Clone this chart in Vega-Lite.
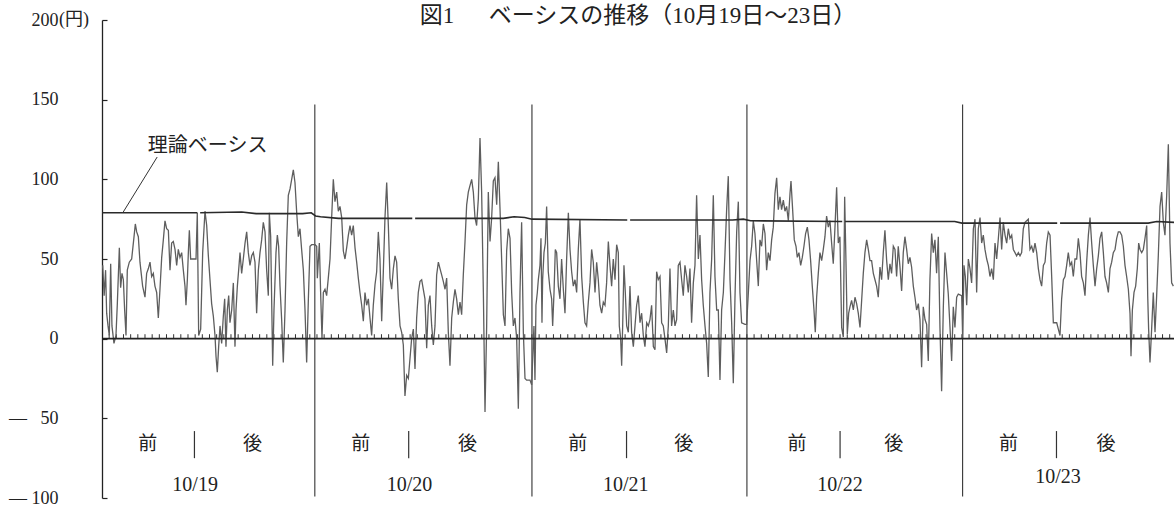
{
"$schema": "https://vega.github.io/schema/vega-lite/v6.json",
"width": 1072, "height": 478,
"autosize": {"type": "none"},
"padding": {"left": 102, "top": 20, "right": 0, "bottom": 14},
"background": "white",
"config": {"view": {"stroke": null}},
"title": {"text": "図1\u3000\u2002ベーシスの推移（10月19日～23日）", "anchor": "middle", "frame": "group", "offset": -17, "fontSize": 23, "font": "Liberation Serif, Noto Sans CJK JP", "fontWeight": "normal", "color": "#222"},
"datasets": {
"basis": [
{"t":0,"v":44},{"t":1,"v":46},{"t":3,"v":27},{"t":5,"v":43},{"t":6.5,"v":16},{"t":8.4,"v":8},{"t":10.2,"v":2},{"t":12.1,"v":47},{"t":13.9,"v":8},{"t":16.7,"v":-3},{"t":19.5,"v":2},{"t":21.4,"v":22},{"t":24.2,"v":57},{"t":26,"v":32},{"t":27.9,"v":41},{"t":29.8,"v":37},{"t":31.6,"v":18},{"t":33.5,"v":2},{"t":35.3,"v":43},{"t":38.1,"v":48},{"t":41.4,"v":50},{"t":44.7,"v":64},{"t":46.5,"v":72},{"t":48.4,"v":67},{"t":50.7,"v":64},{"t":53,"v":48},{"t":56.7,"v":33},{"t":60,"v":26},{"t":62.3,"v":41},{"t":64.7,"v":44},{"t":67,"v":48},{"t":69.3,"v":39},{"t":71.6,"v":41},{"t":73.9,"v":33},{"t":76.3,"v":29},{"t":78.6,"v":13},{"t":80.9,"v":31},{"t":83.3,"v":51},{"t":85.6,"v":62},{"t":87.9,"v":74},{"t":90.2,"v":69},{"t":92.6,"v":68},{"t":94.9,"v":43},{"t":97.2,"v":60},{"t":99.5,"v":61},{"t":101.9,"v":56},{"t":104.2,"v":46},{"t":106.5,"v":56},{"t":108.8,"v":51},{"t":111.2,"v":54},{"t":113.5,"v":43},{"t":115.8,"v":33},{"t":117.2,"v":21},{"t":119.1,"v":37},{"t":120.5,"v":54},{"t":121.9,"v":68},{"t":123.7,"v":50},{"t":131.2,"v":50},{"t":133,"v":79},{"t":134.9,"v":2},{"t":137.7,"v":6},{"t":140.5,"v":54},{"t":143.7,"v":80},{"t":146.1,"v":71},{"t":148.4,"v":52},{"t":150.7,"v":37},{"t":153,"v":22},{"t":155.4,"v":14},{"t":157.7,"v":2},{"t":159.1,"v":-11},{"t":160.9,"v":-21},{"t":162.8,"v":-5},{"t":164.7,"v":8},{"t":167,"v":-3},{"t":169.3,"v":14},{"t":171.2,"v":25},{"t":173,"v":-5},{"t":174.9,"v":18},{"t":176.8,"v":27},{"t":178.6,"v":10},{"t":181,"v":18},{"t":183.3,"v":35},{"t":185.6,"v":-5},{"t":187,"v":18},{"t":188.9,"v":33},{"t":190.7,"v":43},{"t":192.6,"v":54},{"t":194.9,"v":41},{"t":197.2,"v":50},{"t":199.6,"v":60},{"t":201.9,"v":67},{"t":204.2,"v":54},{"t":206.5,"v":46},{"t":208.9,"v":52},{"t":211.2,"v":54},{"t":213.5,"v":48},{"t":215.8,"v":16},{"t":218.2,"v":43},{"t":220.5,"v":54},{"t":222.8,"v":62},{"t":225.1,"v":73},{"t":227.5,"v":67},{"t":229.8,"v":43},{"t":232.1,"v":27},{"t":233.5,"v":79},{"t":235.4,"v":64},{"t":238.2,"v":-17},{"t":240,"v":18},{"t":242.8,"v":54},{"t":244.7,"v":65},{"t":246.5,"v":58},{"t":248.4,"v":33},{"t":250.7,"v":12},{"t":253,"v":-15},{"t":255.4,"v":18},{"t":257.7,"v":60},{"t":260,"v":90},{"t":262.4,"v":94},{"t":264.7,"v":100},{"t":267,"v":106},{"t":269.3,"v":98},{"t":271.7,"v":79},{"t":274,"v":64},{"t":276.3,"v":69},{"t":278.6,"v":56},{"t":281,"v":43},{"t":283.3,"v":18},{"t":285.6,"v":-15},{"t":288,"v":25},{"t":290.3,"v":58},{"t":292.6,"v":59},{"t":297.3,"v":59},{"t":299.6,"v":58},
{"t":300.5,"v":38},{"t":303.3,"v":60},{"t":305.1,"v":29},{"t":307,"v":0},{"t":308.9,"v":29},{"t":311.2,"v":31},{"t":313.5,"v":27},{"t":315.8,"v":38},{"t":318.2,"v":50},{"t":320.5,"v":76},{"t":322.8,"v":100},{"t":325.1,"v":86},{"t":327.5,"v":92},{"t":329.8,"v":80},{"t":332.1,"v":83},{"t":334.5,"v":76},{"t":336.8,"v":55},{"t":339.1,"v":50},{"t":341.4,"v":57},{"t":343.8,"v":65},{"t":346.1,"v":71},{"t":348.4,"v":65},{"t":350.7,"v":71},{"t":353.1,"v":57},{"t":355.4,"v":48},{"t":357.7,"v":38},{"t":360,"v":29},{"t":362.4,"v":21},{"t":364.7,"v":11},{"t":367,"v":29},{"t":369.3,"v":21},{"t":371.7,"v":25},{"t":374,"v":13},{"t":376.3,"v":2},{"t":378.6,"v":21},{"t":381,"v":34},{"t":383.3,"v":42},{"t":385.6,"v":67},{"t":387.9,"v":50},{"t":390.3,"v":11},{"t":392.6,"v":42},{"t":394.9,"v":76},{"t":397.3,"v":98},{"t":399.6,"v":71},{"t":401.9,"v":38},{"t":404.2,"v":31},{"t":406.6,"v":44},{"t":408.9,"v":52},{"t":411.2,"v":48},{"t":413.5,"v":25},{"t":415.9,"v":8},{"t":418.2,"v":4},{"t":420.5,"v":-4},{"t":422.8,"v":-36},{"t":425.2,"v":-23},{"t":427.5,"v":-25},{"t":432.1,"v":0},{"t":434.5,"v":6},{"t":436.8,"v":-19},{"t":439.1,"v":13},{"t":441.4,"v":29},{"t":443.8,"v":36},{"t":446.1,"v":37},{"t":448.4,"v":31},{"t":450.7,"v":25},{"t":453.1,"v":-6},{"t":455.4,"v":21},{"t":457.7,"v":27},{"t":460.1,"v":8},{"t":462.4,"v":-4},{"t":464.7,"v":8},{"t":467,"v":40},{"t":469.4,"v":48},{"t":471.7,"v":44},{"t":474,"v":40},{"t":476.3,"v":36},{"t":478.7,"v":31},{"t":481,"v":38},{"t":483.3,"v":4},{"t":485.6,"v":-17},{"t":488,"v":13},{"t":490.3,"v":23},{"t":492.6,"v":31},{"t":494.9,"v":25},{"t":497.3,"v":15},{"t":499.6,"v":23},{"t":501.9,"v":15},{"t":504.2,"v":40},{"t":506.6,"v":61},{"t":508.9,"v":84},{"t":511.2,"v":92},{"t":513.5,"v":96},{"t":515.9,"v":100},{"t":518.2,"v":92},{"t":520.5,"v":76},{"t":522.8,"v":71},{"t":525.2,"v":88},{"t":527.5,"v":126},{"t":529.8,"v":92},{"t":532.2,"v":29},{"t":534.5,"v":-46},{"t":536.8,"v":8},{"t":539.1,"v":92},{"t":541.5,"v":61},{"t":543.8,"v":76},{"t":546.1,"v":99},{"t":548.4,"v":101},{"t":550.8,"v":84},{"t":553.1,"v":111},{"t":555.4,"v":82},{"t":557.7,"v":50},{"t":560.1,"v":15},{"t":562.4,"v":8},{"t":564.7,"v":55},{"t":567,"v":69},{"t":569.4,"v":63},{"t":571.7,"v":29},{"t":574,"v":8},{"t":576.3,"v":13},{"t":578.7,"v":0},{"t":581,"v":-44},{"t":583.3,"v":29},{"t":585.6,"v":73},{"t":588,"v":4},{"t":590.3,"v":-25},{"t":592.6,"v":-26},{"t":597.3,"v":-26},{"t":599.6,"v":-29},
{"t":602.8,"v":8},{"t":604.2,"v":-26},{"t":605.6,"v":21},{"t":607.5,"v":29},{"t":608.9,"v":37},{"t":611.2,"v":46},{"t":612.6,"v":63},{"t":614,"v":10},{"t":614.9,"v":37},{"t":616.8,"v":54},{"t":618.7,"v":60},{"t":620.5,"v":83},{"t":622.8,"v":42},{"t":625.2,"v":31},{"t":627.5,"v":25},{"t":628.9,"v":8},{"t":630.8,"v":29},{"t":632.6,"v":56},{"t":634.5,"v":54},{"t":636.8,"v":33},{"t":639.1,"v":25},{"t":641.4,"v":50},{"t":643.8,"v":31},{"t":646.1,"v":16},{"t":648.4,"v":50},{"t":650.8,"v":79},{"t":653.1,"v":56},{"t":655.4,"v":42},{"t":657.7,"v":33},{"t":660.1,"v":37},{"t":662.4,"v":29},{"t":664.7,"v":56},{"t":667,"v":75},{"t":669.4,"v":39},{"t":671.7,"v":23},{"t":674,"v":10},{"t":676.3,"v":8},{"t":678.7,"v":23},{"t":681,"v":35},{"t":683.3,"v":56},{"t":685.6,"v":48},{"t":688,"v":29},{"t":690.3,"v":48},{"t":692.6,"v":37},{"t":694.9,"v":21},{"t":697.3,"v":16},{"t":699.6,"v":23},{"t":701.9,"v":21},{"t":704.2,"v":35},{"t":706.6,"v":61},{"t":708.9,"v":46},{"t":711.2,"v":33},{"t":713.5,"v":50},{"t":715.9,"v":37},{"t":718.2,"v":59},{"t":720.5,"v":54},{"t":721.9,"v":8},{"t":723.8,"v":0},{"t":725.2,"v":-17},{"t":726.6,"v":8},{"t":728.4,"v":46},{"t":730.3,"v":29},{"t":732.2,"v":8},{"t":734.5,"v":4},{"t":736.8,"v":33},{"t":739.1,"v":4},{"t":741.5,"v":-5},{"t":743.8,"v":8},{"t":746.1,"v":21},{"t":748.4,"v":27},{"t":750.8,"v":10},{"t":753.1,"v":16},{"t":755.4,"v":2},{"t":757.7,"v":-5},{"t":760.1,"v":10},{"t":762.4,"v":8},{"t":764.7,"v":12},{"t":767,"v":21},{"t":769.4,"v":-5},{"t":771.7,"v":-7},{"t":774,"v":42},{"t":776.3,"v":37},{"t":778.7,"v":39},{"t":781,"v":10},{"t":783.3,"v":8},{"t":785.6,"v":0},{"t":788,"v":-9},{"t":790.3,"v":8},{"t":792.6,"v":44},{"t":794.9,"v":8},{"t":797.3,"v":18},{"t":799.6,"v":8},{"t":801.9,"v":12},{"t":804.2,"v":46},{"t":806.6,"v":48},{"t":808.9,"v":37},{"t":811.2,"v":27},{"t":813.5,"v":46},{"t":815.9,"v":39},{"t":818.2,"v":29},{"t":820.5,"v":44},{"t":822.8,"v":10},{"t":825.2,"v":35},{"t":827.5,"v":46},{"t":829.8,"v":90},{"t":832.2,"v":50},{"t":834.5,"v":65},{"t":836.8,"v":37},{"t":839.1,"v":21},{"t":841.5,"v":8},{"t":843.8,"v":-3},{"t":846.1,"v":-24},{"t":848.4,"v":29},{"t":850.8,"v":50},{"t":853.1,"v":90},{"t":855.4,"v":39},{"t":857.8,"v":18},{"t":860.1,"v":18},{"t":862.4,"v":-26},{"t":864.7,"v":18},{"t":867.1,"v":29},{"t":869.4,"v":54},{"t":871.7,"v":81},{"t":874,"v":102},{"t":876.4,"v":37},{"t":878.7,"v":10},{"t":881,"v":-28},{"t":883.3,"v":25},{"t":885.7,"v":67},{"t":888,"v":86},{"t":890.3,"v":29},{"t":892.6,"v":10},{"t":897.3,"v":9},
{"t":899.6,"v":9},{"t":901.9,"v":28},{"t":904.3,"v":49},{"t":906.6,"v":58},{"t":908.9,"v":74},{"t":911.2,"v":66},{"t":913.6,"v":49},{"t":915.9,"v":33},{"t":918.2,"v":62},{"t":920.5,"v":58},{"t":922.9,"v":72},{"t":925.2,"v":66},{"t":927.5,"v":43},{"t":929.8,"v":54},{"t":932.2,"v":49},{"t":934.5,"v":62},{"t":936.8,"v":70},{"t":939.1,"v":91},{"t":941.5,"v":101},{"t":943.8,"v":81},{"t":946.1,"v":89},{"t":948.4,"v":81},{"t":950.8,"v":87},{"t":953.1,"v":80},{"t":955.4,"v":83},{"t":957.8,"v":74},{"t":960.1,"v":91},{"t":961.5,"v":99},{"t":963.8,"v":81},{"t":966.1,"v":62},{"t":968.5,"v":58},{"t":970.3,"v":51},{"t":972.6,"v":54},{"t":975,"v":46},{"t":977.3,"v":51},{"t":979.6,"v":58},{"t":981.9,"v":66},{"t":984.3,"v":70},{"t":986.6,"v":62},{"t":988.9,"v":49},{"t":991.2,"v":33},{"t":993.6,"v":18},{"t":995.4,"v":4},{"t":997.3,"v":26},{"t":999.6,"v":41},{"t":1001.9,"v":54},{"t":1004.3,"v":49},{"t":1006.6,"v":56},{"t":1008.9,"v":64},{"t":1011.2,"v":77},{"t":1013.6,"v":70},{"t":1015.9,"v":74},{"t":1018.2,"v":60},{"t":1020.5,"v":47},{"t":1022.9,"v":70},{"t":1025.2,"v":95},{"t":1027.5,"v":60},{"t":1029.8,"v":64},{"t":1032.2,"v":7},{"t":1034.5,"v":1},{"t":1036.4,"v":89},{"t":1038.2,"v":49},{"t":1040.1,"v":3},{"t":1042,"v":16},{"t":1043.8,"v":20},{"t":1046.1,"v":24},{"t":1048.5,"v":18},{"t":1050.8,"v":26},{"t":1053.1,"v":22},{"t":1055.4,"v":16},{"t":1057.8,"v":7},{"t":1060.1,"v":24},{"t":1062.4,"v":41},{"t":1064.7,"v":54},{"t":1067.1,"v":62},{"t":1069.4,"v":56},{"t":1071.7,"v":49},{"t":1074,"v":49},{"t":1076.4,"v":41},{"t":1078.7,"v":37},{"t":1081,"v":33},{"t":1083.3,"v":26},{"t":1085.7,"v":45},{"t":1088,"v":37},{"t":1090.3,"v":54},{"t":1092.6,"v":68},{"t":1095,"v":49},{"t":1097.3,"v":37},{"t":1099.6,"v":47},{"t":1101.9,"v":41},{"t":1104.3,"v":58},{"t":1106.6,"v":56},{"t":1108.9,"v":39},{"t":1111.2,"v":58},{"t":1113.6,"v":45},{"t":1115.9,"v":30},{"t":1118.2,"v":54},{"t":1120.5,"v":64},{"t":1122.9,"v":56},{"t":1125.2,"v":47},{"t":1127.5,"v":51},{"t":1129.8,"v":45},{"t":1132.2,"v":33},{"t":1134.5,"v":26},{"t":1136.8,"v":18},{"t":1139.2,"v":22},{"t":1141.5,"v":12},{"t":1143.8,"v":-18},{"t":1146.1,"v":20},{"t":1148.5,"v":12},{"t":1150.8,"v":9},{"t":1153.1,"v":-14},{"t":1155.4,"v":37},{"t":1157.8,"v":66},{"t":1160.1,"v":54},{"t":1162.4,"v":62},{"t":1164.7,"v":41},{"t":1167.1,"v":64},{"t":1169.4,"v":7},{"t":1171.7,"v":-33},{"t":1174.1,"v":20},{"t":1176.4,"v":54},{"t":1178.7,"v":41},{"t":1181,"v":28},{"t":1183.4,"v":7},{"t":1185.7,"v":-14},{"t":1188,"v":20},{"t":1190.3,"v":7},{"t":1192.7,"v":26},{"t":1195,"v":28},{"t":1199.7,"v":27},
{"t":1201.1,"v":0},{"t":1202.9,"v":46},{"t":1204.8,"v":39},{"t":1206.7,"v":21},{"t":1209,"v":50},{"t":1211.3,"v":44},{"t":1213.6,"v":35},{"t":1216,"v":69},{"t":1218.3,"v":75},{"t":1220.6,"v":29},{"t":1222.9,"v":69},{"t":1225.3,"v":76},{"t":1227.6,"v":60},{"t":1229.9,"v":65},{"t":1232.2,"v":56},{"t":1234.6,"v":50},{"t":1236.9,"v":46},{"t":1239.2,"v":39},{"t":1241.5,"v":44},{"t":1243.9,"v":37},{"t":1246.2,"v":60},{"t":1248.5,"v":50},{"t":1250.9,"v":63},{"t":1253.2,"v":76},{"t":1255.5,"v":56},{"t":1257.8,"v":73},{"t":1260.2,"v":65},{"t":1262.5,"v":60},{"t":1264.8,"v":69},{"t":1267.1,"v":63},{"t":1269.5,"v":65},{"t":1271.8,"v":56},{"t":1274.1,"v":54},{"t":1276.4,"v":52},{"t":1278.8,"v":54},{"t":1281.1,"v":52},{"t":1283.4,"v":54},{"t":1285.7,"v":69},{"t":1288.1,"v":73},{"t":1290.4,"v":74},{"t":1292.7,"v":75},{"t":1295,"v":56},{"t":1297.4,"v":58},{"t":1299.7,"v":54},{"t":1302,"v":60},{"t":1304.4,"v":54},{"t":1306.7,"v":44},{"t":1309,"v":37},{"t":1311.3,"v":33},{"t":1313.7,"v":46},{"t":1316,"v":48},{"t":1318.3,"v":60},{"t":1320.6,"v":67},{"t":1323,"v":65},{"t":1325.3,"v":39},{"t":1327.6,"v":10},{"t":1332.3,"v":10},{"t":1334.6,"v":6},{"t":1336.9,"v":2},{"t":1339.2,"v":25},{"t":1341.6,"v":37},{"t":1343.9,"v":39},{"t":1346.2,"v":46},{"t":1348.5,"v":54},{"t":1350.9,"v":46},{"t":1353.2,"v":48},{"t":1355.5,"v":39},{"t":1357.8,"v":50},{"t":1360.2,"v":50},{"t":1362.5,"v":63},{"t":1364.8,"v":54},{"t":1367.1,"v":39},{"t":1369.5,"v":35},{"t":1371.8,"v":27},{"t":1374.1,"v":48},{"t":1376.5,"v":65},{"t":1378.8,"v":76},{"t":1381.1,"v":60},{"t":1383.4,"v":46},{"t":1385.8,"v":33},{"t":1388.1,"v":44},{"t":1390.4,"v":52},{"t":1392.7,"v":63},{"t":1395.1,"v":67},{"t":1397.4,"v":54},{"t":1399.7,"v":39},{"t":1402,"v":35},{"t":1404.4,"v":29},{"t":1406.7,"v":44},{"t":1409,"v":48},{"t":1411.3,"v":54},{"t":1413.7,"v":56},{"t":1416,"v":63},{"t":1418.3,"v":67},{"t":1420.6,"v":67},{"t":1423,"v":65},{"t":1425.3,"v":58},{"t":1427.6,"v":46},{"t":1429.9,"v":39},{"t":1432.3,"v":31},{"t":1434.6,"v":16},{"t":1436,"v":-11},{"t":1437.9,"v":18},{"t":1440.2,"v":29},{"t":1442.5,"v":33},{"t":1444.8,"v":44},{"t":1446.7,"v":60},{"t":1448.6,"v":56},{"t":1450.9,"v":54},{"t":1453.2,"v":56},{"t":1455.5,"v":63},{"t":1457.9,"v":71},{"t":1459.3,"v":27},{"t":1460.6,"v":6},{"t":1462.5,"v":-15},{"t":1464.8,"v":6},{"t":1467.1,"v":29},{"t":1469.5,"v":4},{"t":1471.8,"v":27},{"t":1474.1,"v":52},{"t":1476.5,"v":83},{"t":1478.8,"v":92},{"t":1481.1,"v":73},{"t":1483.4,"v":65},{"t":1485.8,"v":90},{"t":1488.1,"v":122},{"t":1490.4,"v":60},{"t":1492.7,"v":35},{"t":1495.1,"v":33}
],
"theory": [
{"t":0,"v":79,"seg":"a"},{"t":133,"v":79,"seg":"a"},
{"t":137,"v":79,"seg":"b"},{"t":195,"v":79.5,"seg":"b"},{"t":215,"v":78.5,"seg":"b"},{"t":280,"v":78.5,"seg":"b"},{"t":292,"v":79,"seg":"b"},{"t":298,"v":77,"seg":"b"},{"t":305,"v":76.5,"seg":"b"},{"t":330,"v":75.5,"seg":"b"},{"t":433,"v":75.5,"seg":"b"},
{"t":437,"v":75.5,"seg":"c"},{"t":560,"v":75.5,"seg":"c"},{"t":575,"v":76.5,"seg":"c"},{"t":590,"v":76,"seg":"c"},{"t":600,"v":75,"seg":"c"},{"t":733,"v":74.5,"seg":"c"},
{"t":737,"v":74.5,"seg":"d"},{"t":880,"v":74.5,"seg":"d"},{"t":895,"v":75,"seg":"d"},{"t":905,"v":74,"seg":"d"},{"t":1033,"v":73.5,"seg":"d"},
{"t":1037,"v":73.5,"seg":"e"},{"t":1190,"v":73.5,"seg":"e"},{"t":1200,"v":72.5,"seg":"e"},{"t":1333,"v":72.5,"seg":"e"},
{"t":1337,"v":72.5,"seg":"f"},{"t":1460,"v":72.5,"seg":"f"},{"t":1472,"v":73.5,"seg":"f"},{"t":1496,"v":73,"seg":"f"}
],
"separators": [{"t":297},{"t":600},{"t":900},{"t":1201}],
"zeroline": [{"v":0}],
"zeroticks": [{"t":10},{"t":20},{"t":30},{"t":40},{"t":50},{"t":60},{"t":70},{"t":80},{"t":90},{"t":100},{"t":110},{"t":120},{"t":130},{"t":140},{"t":150},{"t":160},{"t":170},{"t":180},{"t":190},{"t":200},{"t":210},{"t":220},{"t":230},{"t":240},{"t":250},{"t":260},{"t":270},{"t":280},{"t":290},{"t":300},{"t":310},{"t":320},{"t":330},{"t":340},{"t":350},{"t":360},{"t":370},{"t":380},{"t":390},{"t":400},{"t":410},{"t":420},{"t":430},{"t":440},{"t":450},{"t":460},{"t":470},{"t":480},{"t":490},{"t":500},{"t":510},{"t":520},{"t":530},{"t":540},{"t":550},{"t":560},{"t":570},{"t":580},{"t":590},{"t":600},{"t":610},{"t":620},{"t":630},{"t":640},{"t":650},{"t":660},{"t":670},{"t":680},{"t":690},{"t":700},{"t":710},{"t":720},{"t":730},{"t":740},{"t":750},{"t":760},{"t":770},{"t":780},{"t":790},{"t":800},{"t":810},{"t":820},{"t":830},{"t":840},{"t":850},{"t":860},{"t":870},{"t":880},{"t":890},{"t":900},{"t":910},{"t":920},{"t":930},{"t":940},{"t":950},{"t":960},{"t":970},{"t":980},{"t":990},{"t":1000},{"t":1010},{"t":1020},{"t":1030},{"t":1040},{"t":1050},{"t":1060},{"t":1070},{"t":1080},{"t":1090},{"t":1100},{"t":1110},{"t":1120},{"t":1130},{"t":1140},{"t":1150},{"t":1160},{"t":1170},{"t":1180},{"t":1190},{"t":1200},{"t":1210},{"t":1220},{"t":1230},{"t":1240},{"t":1250},{"t":1260},{"t":1270},{"t":1280},{"t":1290},{"t":1300},{"t":1310},{"t":1320},{"t":1330},{"t":1340},{"t":1350},{"t":1360},{"t":1370},{"t":1380},{"t":1390},{"t":1400},{"t":1410},{"t":1420},{"t":1430},{"t":1440},{"t":1450},{"t":1460},{"t":1470},{"t":1480},{"t":1490}],
"sessions": [
{"t":64,"v":-66,"text":"前"},{"t":210,"v":-66,"text":"後"},
{"t":361,"v":-66,"text":"前"},{"t":510,"v":-66,"text":"後"},
{"t":664,"v":-66,"text":"前"},{"t":812,"v":-66,"text":"後"},
{"t":970,"v":-66,"text":"前"},{"t":1105,"v":-66,"text":"後"},
{"t":1265,"v":-66,"text":"前"},{"t":1401,"v":-66,"text":"後"}
],
"splits": [{"t":129,"v1":-58,"v2":-75},{"t":428,"v1":-58,"v2":-75},{"t":732,"v1":-58,"v2":-75},{"t":1030,"v1":-58,"v2":-75},{"t":1332,"v1":-58,"v2":-75}],
"dates": [{"t":130,"v":-92,"text":"10/19"},{"t":429,"v":-92,"text":"10/20"},{"t":731,"v":-92,"text":"10/21"},{"t":1030,"v":-92,"text":"10/22"},{"t":1334,"v":-87,"text":"10/23"}],
"leader": [{"t1":77,"v1":114,"t2":29,"v2":79}],
"annot": [{"t":64,"v":121,"text":"理論ベーシス"}],
"unit": [{"t":0,"v":200,"text":"(円)"}]
},
"layer": [
{"data": {"name": "separators"}, "mark": {"type": "rule", "color": "#333", "strokeWidth": 1.1},
 "encoding": {"x": {"field": "t", "type": "quantitative", "scale": {"domain": [0, 1496], "nice": false, "zero": false}, "axis": null},
  "y": {"datum": 147, "type": "quantitative", "scale": {"domain": [-100, 200], "nice": false, "zero": false},
   "axis": {"values": [-100, -50, 0, 50, 100, 150, 200], "title": null, "grid": false, "domainColor": "#222", "domainWidth": 1.3, "tickColor": "#222", "tickWidth": 1.2, "tickSize": -5,
    "labelFont": "Liberation Serif", "labelFontSize": 18, "labelColor": "#222", "labelAlign": "right", "labelPadding": 49,
    "labelExpr": "datum.value == -50 ? '\u2014\u00a0\u00a0\u00a050' : datum.value == -100 ? '\u2014\u00a0100' : datum.label"}},
  "y2": {"datum": -99}}},
{"data": {"name": "zeroticks"}, "mark": {"type": "rule", "color": "#333", "strokeWidth": 1},
 "encoding": {"x": {"field": "t", "type": "quantitative"}, "y": {"datum": 0, "type": "quantitative"}, "y2": {"datum": 2.8}}},
{"data": {"name": "basis"}, "mark": {"type": "line", "color": "#5e5e5e", "strokeWidth": 1.3, "clip": true},
 "encoding": {"x": {"field": "t", "type": "quantitative"}, "y": {"field": "v", "type": "quantitative"}}},
{"data": {"name": "theory"}, "mark": {"type": "line", "color": "#2a2a2a", "strokeWidth": 1.6, "clip": true},
 "encoding": {"x": {"field": "t", "type": "quantitative"}, "y": {"field": "v", "type": "quantitative"}, "detail": {"field": "seg"}}},
{"data": {"name": "zeroline"}, "mark": {"type": "rule", "color": "#222", "strokeWidth": 1.8},
 "encoding": {"y": {"field": "v", "type": "quantitative"}}},
{"data": {"name": "splits"}, "mark": {"type": "rule", "color": "#333", "strokeWidth": 1.2},
 "encoding": {"x": {"field": "t", "type": "quantitative"}, "y": {"field": "v1", "type": "quantitative"}, "y2": {"field": "v2"}}},
{"data": {"name": "leader"}, "mark": {"type": "rule", "color": "#333", "strokeWidth": 1},
 "encoding": {"x": {"field": "t1", "type": "quantitative"}, "y": {"field": "v1", "type": "quantitative"}, "x2": {"field": "t2"}, "y2": {"field": "v2"}}},
{"data": {"name": "sessions"}, "mark": {"type": "text", "font": "Noto Sans CJK JP", "fontSize": 19, "color": "#222", "align": "center", "baseline": "middle"},
 "encoding": {"x": {"field": "t", "type": "quantitative"}, "y": {"field": "v", "type": "quantitative"}, "text": {"field": "text"}}},
{"data": {"name": "dates"}, "mark": {"type": "text", "font": "Liberation Serif", "fontSize": 20, "color": "#222", "align": "center", "baseline": "middle"},
 "encoding": {"x": {"field": "t", "type": "quantitative"}, "y": {"field": "v", "type": "quantitative"}, "text": {"field": "text"}}},
{"data": {"name": "annot"}, "mark": {"type": "text", "font": "Noto Sans CJK JP", "fontSize": 20, "color": "#222", "align": "left", "baseline": "middle"},
 "encoding": {"x": {"field": "t", "type": "quantitative"}, "y": {"field": "v", "type": "quantitative"}, "text": {"field": "text"}}},
{"data": {"name": "unit"}, "mark": {"type": "text", "font": "Liberation Serif, Noto Sans CJK JP", "fontSize": 18, "color": "#222", "align": "left", "baseline": "middle", "dx": -43},
 "encoding": {"x": {"field": "t", "type": "quantitative"}, "y": {"field": "v", "type": "quantitative"}, "text": {"field": "text"}}}
]
}
